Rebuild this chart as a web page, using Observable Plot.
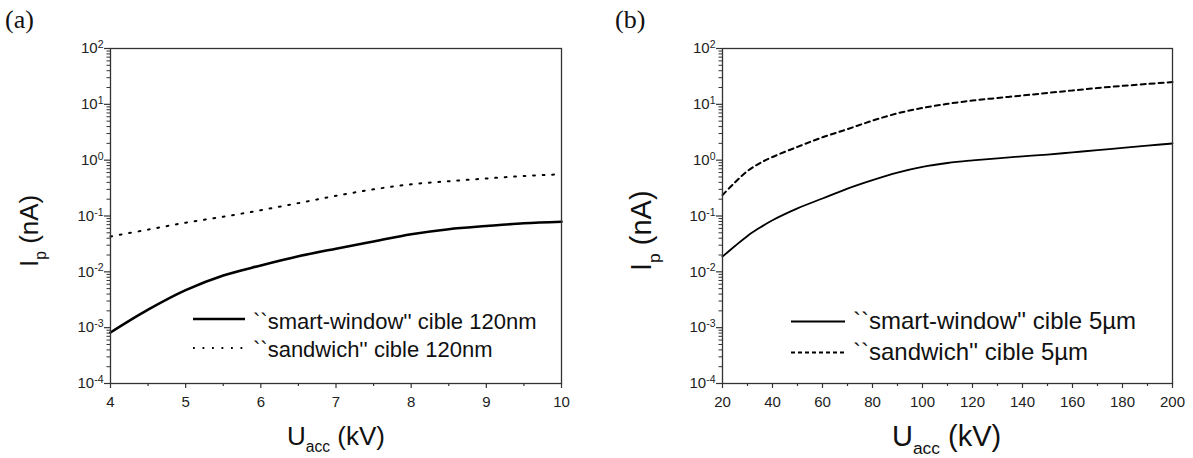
<!DOCTYPE html>
<html>
<head>
<meta charset="utf-8">
<script src="https://cdn.jsdelivr.net/npm/d3@7"></script>
<script src="https://cdn.jsdelivr.net/npm/@observablehq/plot@0.6"></script>
<style>
  html, body { margin: 0; padding: 0; background: white; }
  #wrap { position: relative; width: 1193px; height: 458px; overflow: hidden; }
  #left { position: absolute; left: 0; top: 0; }
  #right { position: absolute; left: 600px; top: 0; }
</style>
</head>
<body>
<div id="wrap"><div id="left"></div><div id="right"></div></div>
<script>
// ---- data ----
const leftU = [4, 4.5, 5, 5.5, 6, 6.5, 7, 7.5, 8, 8.5, 9, 9.5, 10];
const leftSmart = [0.00082, 0.0021, 0.0047, 0.0086, 0.013, 0.019, 0.026, 0.035, 0.047, 0.058, 0.066, 0.074, 0.079];
const leftSandwich = [0.043, 0.057, 0.076, 0.097, 0.127, 0.17, 0.23, 0.30, 0.37, 0.42, 0.47, 0.52, 0.56];

const rightU = [20, 25, 30, 35, 40, 50, 60, 70, 80, 90, 100, 110, 120, 130, 140, 150, 160, 170, 180, 190, 200];
const rightSmart = [0.0187, 0.029, 0.044, 0.062, 0.084, 0.137, 0.206, 0.31, 0.44, 0.60, 0.76, 0.89, 0.99, 1.08, 1.17, 1.26, 1.38, 1.51, 1.66, 1.82, 1.99];
const rightSandwich = [0.237, 0.40, 0.64, 0.885, 1.14, 1.73, 2.57, 3.6, 5.1, 6.9, 8.6, 10.2, 11.7, 13.0, 14.4, 16.0, 17.7, 19.6, 21.4, 23.2, 25.1];

const yMajor = [1e-4, 1e-3, 1e-2, 1e-1, 1e0, 1e1, 1e2];
const leftXMajor = [4, 5, 6, 7, 8, 9, 10];
const leftXMinor = [4.5, 5.5, 6.5, 7.5, 8.5, 9.5];
const rightXMajor = [20, 40, 60, 80, 100, 120, 140, 160, 180, 200];
const rightXMinor = [30, 50, 70, 90, 110, 130, 150, 170, 190];

const leftLegend = ["``smart-window'' cible 120nm", "``sandwich'' cible 120nm"];
const rightLegend = ["``smart-window'' cible 5\u00b5m", "``sandwich'' cible 5\u00b5m"];

// minor log ticks 2..9 per decade
const yMinor = [];
for (let e = -4; e < 2; e++) for (let m = 2; m <= 9; m++) yMinor.push(m * Math.pow(10, e));

const rows = (u, a, b) => u.map((x, i) => ({u: x, smart: a[i], sandwich: b[i]}));

const AX = "#333";
const FONT = "Liberation Sans, Arial, sans-serif";

function panel({data, xDomain, xMajor, xMinor, width, ml, mr, smartW, sandDash}) {
  return Plot.plot({
    width, height: 458,
    marginLeft: ml, marginRight: mr, marginTop: 48, marginBottom: 75,
    style: {fontFamily: FONT, fontSize: "15px", color: "#222", background: "white", overflow: "visible"},
    x: {domain: xDomain, label: null},
    y: {type: "log", domain: [1e-4, 1e2], label: null},
    marks: [
      Plot.axisY(yMinor, {tickSize: 3.5, tickFormat: () => "", stroke: AX, strokeWidth: 1}),
      Plot.axisY(yMajor, {tickSize: 6, tickPadding: 1, tickFormat: d => String(Math.round(Math.log10(d))), stroke: AX, strokeWidth: 1.2, fill: "#222", fontSize: 15}),
      Plot.axisX(xMinor, {tickSize: 3, tickFormat: () => "", stroke: AX, strokeWidth: 1.2}),
      Plot.axisX(xMajor, {tickSize: 5, tickPadding: 8, stroke: AX, strokeWidth: 1.2, fill: "#222", fontSize: 15}),
      Plot.line(data, {x: "u", y: "sandwich", stroke: "black", strokeWidth: 2, strokeDasharray: sandDash, curve: "catmull-rom"}),
      Plot.line(data, {x: "u", y: "smart", stroke: "black", strokeWidth: smartW, curve: "catmull-rom"}),
      Plot.frame({stroke: AX, strokeWidth: 1.3})
    ]
  });
}

const NS = "http://www.w3.org/2000/svg";
function el(parent, name, attrs, text) {
  const e = document.createElementNS(NS, name);
  for (const k in attrs) e.setAttribute(k, attrs[k]);
  if (text != null) e.textContent = text;
  parent.appendChild(e);
  return e;
}

function decorate(svg, o) {
  // superscript exponents on y tick labels
  svg.querySelectorAll('g[aria-label="y-axis tick label"] text').forEach(t => {
    const ex = t.textContent;
    if (!ex) return;
    t.textContent = "10";
    el(t, "tspan", {dy: "-0.5em", "font-size": 10.5}, ex);
  });
  const g = el(svg, "g", {"font-family": FONT, fill: "#111", "text-anchor": "start"});
  // y label
  const yl = el(g, "text", {transform: `translate(${o.yx},${o.yy}) rotate(-90)`, "font-size": o.fs});
  yl.appendChild(document.createTextNode("I"));
  el(yl, "tspan", {dy: o.fs * 0.3, "font-size": o.fs * 0.6}, "p");
  el(yl, "tspan", {dy: -o.fs * 0.3, "font-size": o.fs}, " (nA)");
  // x label
  const xl = el(g, "text", {x: o.xx, y: o.xy, "font-size": o.fs});
  xl.appendChild(document.createTextNode("U"));
  el(xl, "tspan", {dy: o.fs * 0.27, "font-size": o.fs * 0.6}, "acc");
  el(xl, "tspan", {dy: -o.fs * 0.27, "font-size": o.fs}, " (kV)");
  // panel label
  el(g, "text", {x: o.px, y: 28, "font-family": "Liberation Serif, Times New Roman, serif", "font-size": 26}, o.panel);
  // legend
  o.legend.forEach((txt, i) => {
    el(g, "line", {x1: o.lx1, x2: o.lx2, y1: o.ly[i], y2: o.ly[i], stroke: "black",
      "stroke-width": i === 0 ? o.smartW : 2, "stroke-dasharray": i === 0 ? "none" : o.sandDash});
    el(g, "text", {x: o.tx, y: o.ty[i], "font-size": o.lfs}, txt);
  });
}

const leftOpts = {data: rows(leftU, leftSmart, leftSandwich), xDomain: [4, 10], xMajor: leftXMajor, xMinor: leftXMinor,
  width: 590, ml: 110, mr: 29, smartW: 2.6, sandDash: "1.8,7.7"};
const rightOpts = {data: rows(rightU, rightSmart, rightSandwich), xDomain: [20, 200], xMajor: rightXMajor, xMinor: rightXMinor,
  width: 593, ml: 122, mr: 21, smartW: 1.8, sandDash: "5,4"};

const L = panel(leftOpts);
decorate(L, {yx: 38, yy: 267, xx: 287, xy: 445, fs: 26, px: 5, panel: "(a)",
  legend: leftLegend, lx1: 193, lx2: 245, ly: [319, 348], tx: 253, ty: [329, 357], lfs: 22,
  smartW: 2.6, sandDash: "1.8,7.7"});
document.getElementById("left").appendChild(L);

const R = panel(rightOpts);
decorate(R, {yx: 51, yy: 271, xx: 292, xy: 446, fs: 29, px: 15, panel: "(b)",
  legend: rightLegend, lx1: 191, lx2: 245, ly: [321.5, 352.5], tx: 253, ty: [329, 360], lfs: 24,
  smartW: 1.8, sandDash: "4,3"});
document.getElementById("right").appendChild(R);
</script>
</body>
</html>
